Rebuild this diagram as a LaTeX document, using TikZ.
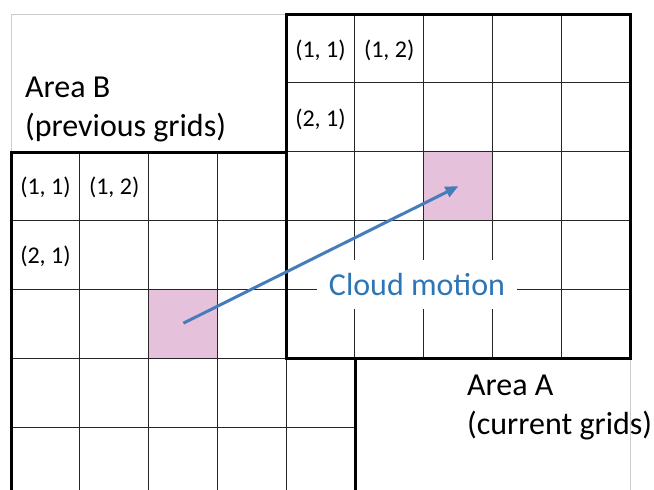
\documentclass[tikz,border=0pt]{standalone}
\usepackage{fontspec}
\setmainfont{Carlito}
\usetikzlibrary{arrows.meta}
\definecolor{cellpink}{RGB}{229,193,220}
\definecolor{motionblue}{RGB}{70,124,186}
\definecolor{labelblue}{RGB}{46,117,182}

\begin{document}
\begin{tikzpicture}[x=1pt, y=-1pt,
    thin grid/.style={line width=1.3pt, black!85},
    border/.style={line width=3pt, line cap=rect},
    pinkcell/.style={fill=cellpink, draw=none, minimum size=68.8pt, inner sep=0pt},
    cell label/.style={font=\fontsize{24}{28}\selectfont, inner sep=0pt},
    area label/.style={font=\fontsize{32}{39}\selectfont, align=left, anchor=base west, inner sep=0pt},
    motion/.style={-{Triangle[length=13pt, width=11pt]}, line width=3pt, motionblue}]

    \useasboundingbox (0,0) rectangle (654,490);
    \clip (0,0) rectangle (654,490);

    % light frame round both areas
        \draw[black!20, line width=0.8pt] (11,14) rectangle (630,500);

    % area B (previous grids)
        \fill[white] (11,152) rectangle (355,496);
        \node[pinkcell] (cellB) at (183.4,323.2) {};
        \foreach \i in {1,...,4} {
            \draw[thin grid] (11+68.8*\i,152) -- (11+68.8*\i,496);
            \draw[thin grid] (11,152+68.8*\i) -- (355,152+68.8*\i);
        }
        \draw[border] (11,500) -- (11,152) -- (355,152) -- (355,500);

    % area A (current grids)
        \fill[white] (286,14) rectangle (630,358);
        \node[pinkcell] (cellA) at (458.4,186.2) {};
        \foreach \i in {1,...,4} {
            \draw[thin grid] (286+68.8*\i,14) -- (286+68.8*\i,358);
            \draw[thin grid] (286,14+68.8*\i) -- (630,14+68.8*\i);
        }
        \draw[border] (286,14) rectangle (630,358);

    % grid indices
        \node[cell label] (b11) at (45.4,187) {(1, 1)};
        \node[cell label] (b12) at (114.2,187) {(1, 2)};
        \node[cell label] (b21) at (45.4,256) {(2, 1)};
        \node[cell label] (a11) at (320.4,50) {(1, 1)};
        \node[cell label] (a12) at (389.2,50) {(1, 2)};
        \node[cell label] (a21) at (320.4,119) {(2, 1)};

    % motion vector
        \draw[motion] (cellB.center) -- (cellA.center);
        \node[fill=white, minimum width=200pt, minimum height=49pt, text=labelblue,
            font=\fontsize{32}{38}\selectfont] (motionlabel) at (417,284.5) {Cloud motion};

    % area names
        \node[area label] (areaB) at (25,136) {Area B\\(previous grids)};
        \node[area label] (areaA) at (467,434) {Area A\\(current grids)};

\end{tikzpicture}
\end{document}
